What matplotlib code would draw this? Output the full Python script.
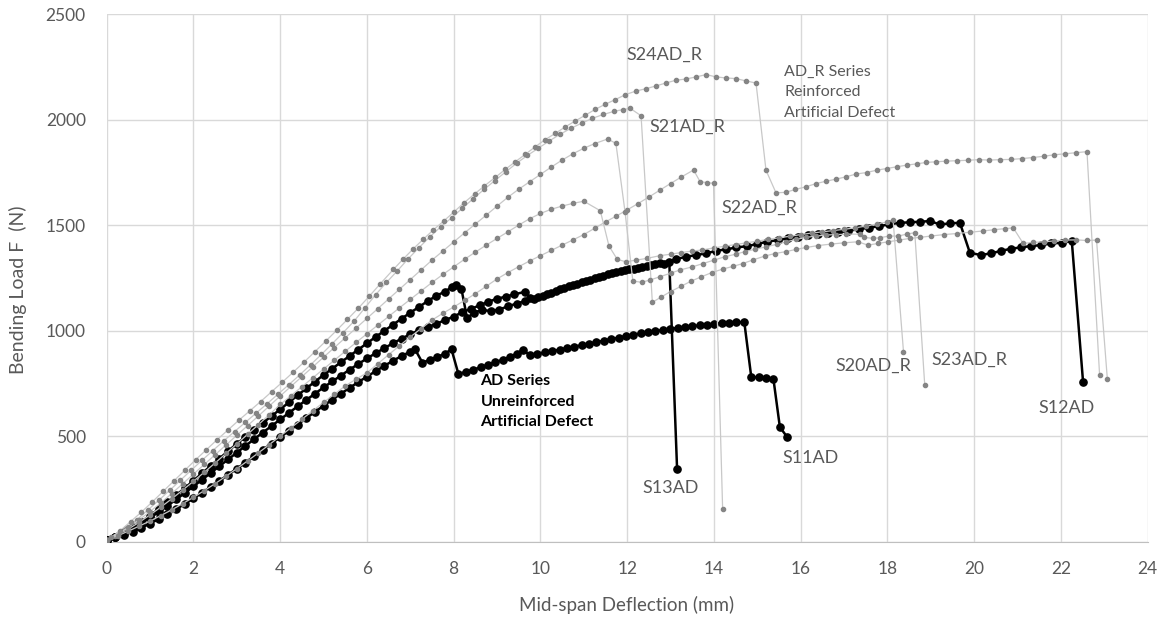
import matplotlib
matplotlib.use("Agg")
import matplotlib.pyplot as plt

plt.rcParams['font.family'] = ['Lato', 'DejaVu Sans']

# ---- data: (deflection mm, load N) ----
# AD series (unreinforced)
s11ad = [(0, 10), (0.2, 20), (0.4, 33), (0.6, 48), (0.8, 66), (1.0, 86), (1.2, 107), (1.4, 130),
         (1.6, 154), (1.8, 179), (2.0, 205), (2.2, 232), (2.4, 260), (2.6, 288), (2.8, 317),
         (3.0, 346), (3.2, 375), (3.4, 405), (3.6, 435), (3.8, 465), (4.0, 495), (4.2, 525),
         (4.4, 555), (4.6, 585), (4.8, 615), (5.0, 644), (5.2, 673), (5.4, 701), (5.6, 729),
         (5.8, 756), (6.0, 782), (6.2, 808), (6.4, 833), (6.6, 857), (6.8, 880), (7.0, 900),
         (7.11, 911), (7.28, 848), (7.45, 862), (7.62, 875), (7.79, 890), (7.95, 911), (8.11, 794),
         (8.28, 805), (8.45, 815), (8.62, 826), (8.79, 838), (8.96, 850), (9.13, 862), (9.3, 876),
         (9.45, 890), (9.59, 908), (9.76, 884), (9.93, 890), (10.1, 897), (10.27, 903),
         (10.44, 910), (10.61, 917), (10.78, 924), (10.95, 931), (11.12, 938), (11.29, 945),
         (11.46, 953), (11.63, 960), (11.8, 967), (11.97, 974), (12.14, 981), (12.31, 987),
         (12.48, 993), (12.65, 998), (12.82, 1003), (12.99, 1008), (13.16, 1013), (13.33, 1017),
         (13.5, 1021), (13.67, 1025), (13.84, 1029), (14.01, 1032), (14.18, 1035), (14.35, 1038),
         (14.52, 1040), (14.7, 1040), (14.86, 781), (15.03, 778), (15.2, 776), (15.37, 773),
         (15.52, 543), (15.68, 498)]

s12ad = [(0, 10), (0.2, 24), (0.4, 44), (0.6, 68), (0.8, 95), (1.0, 124), (1.2, 155), (1.4, 187),
         (1.6, 220), (1.8, 254), (2.0, 289), (2.2, 324), (2.4, 359), (2.6, 394), (2.8, 429),
         (3.0, 464), (3.2, 497), (3.4, 530), (3.6, 563), (3.8, 595), (4.0, 627), (4.2, 660),
         (4.4, 693), (4.6, 726), (4.8, 758), (5.0, 790), (5.2, 820), (5.4, 850), (5.6, 880),
         (5.8, 910), (6.0, 940), (6.2, 970), (6.4, 999), (6.6, 1028), (6.8, 1057), (7.0, 1085),
         (7.2, 1112), (7.4, 1140), (7.6, 1165), (7.8, 1185), (7.95, 1205), (8.06, 1216),
         (8.18, 1196), (8.31, 1058), (8.46, 1085), (8.65, 1098), (8.85, 1093), (9.05, 1100),
         (9.25, 1115), (9.45, 1128), (9.65, 1140), (9.85, 1152), (10.05, 1166), (10.25, 1180),
         (10.45, 1195), (10.65, 1210), (10.85, 1222), (11.05, 1233), (11.25, 1248), (11.45, 1260),
         (11.65, 1275), (11.85, 1284), (12.05, 1292), (12.25, 1298), (12.45, 1305), (12.65, 1314),
         (12.86, 1318), (13.13, 1339), (13.36, 1350), (13.59, 1358), (13.82, 1366), (14.05, 1378),
         (14.28, 1385), (14.52, 1394), (14.76, 1400), (14.99, 1410), (15.22, 1421), (15.48, 1429),
         (15.71, 1437), (15.94, 1445), (16.17, 1453), (16.4, 1457), (16.63, 1461), (16.86, 1465),
         (17.09, 1472), (17.34, 1481), (17.57, 1487), (17.8, 1495), (18.04, 1503), (18.28, 1511),
         (18.52, 1513), (18.75, 1516), (18.98, 1519), (19.21, 1503), (19.44, 1508), (19.67, 1511),
         (19.9, 1369), (20.15, 1358), (20.38, 1366), (20.61, 1377), (20.84, 1388), (21.07, 1394),
         (21.32, 1401), (21.55, 1405), (21.78, 1413), (22.02, 1416), (22.25, 1424), (22.51, 756)]

s13ad = [(0, 10), (0.2, 22), (0.4, 40), (0.6, 62), (0.8, 87), (1.0, 113), (1.2, 141), (1.4, 170),
         (1.6, 200), (1.8, 231), (2.0, 262), (2.2, 294), (2.4, 326), (2.6, 358), (2.8, 390),
         (3.0, 422), (3.2, 454), (3.4, 486), (3.6, 517), (3.8, 548), (4.0, 579), (4.2, 610),
         (4.4, 641), (4.6, 671), (4.8, 701), (5.0, 731), (5.2, 759), (5.4, 787), (5.6, 815),
         (5.8, 842), (6.0, 868), (6.2, 893), (6.4, 917), (6.6, 940), (6.8, 962), (7.0, 983),
         (7.2, 1002), (7.4, 1016), (7.6, 1032), (7.8, 1050), (8.0, 1066), (8.2, 1088), (8.4, 1103),
         (8.6, 1120), (8.8, 1137), (9.0, 1151), (9.2, 1161), (9.4, 1172), (9.65, 1184),
         (9.77, 1153), (9.95, 1160), (10.15, 1172), (10.35, 1187), (10.55, 1203), (10.75, 1216),
         (10.95, 1228), (11.15, 1240), (11.35, 1254), (11.55, 1268), (11.75, 1280), (11.95, 1287),
         (12.15, 1294), (12.35, 1300), (12.55, 1312), (12.75, 1322), (12.97, 1327), (13.15, 346)]

# AD_R series (reinforced)
s24ad_r = [(0, 10), (0.1, 20), (0.3, 50), (0.55, 95), (0.8, 140), (1.05, 188), (1.3, 238),
           (1.55, 288), (1.8, 338), (2.05, 388), (2.3, 436), (2.55, 484), (2.8, 530), (3.05, 576),
           (3.3, 620), (3.55, 664), (3.8, 710), (4.05, 756), (4.3, 803), (4.55, 851), (4.8, 900),
           (5.05, 950), (5.3, 1001), (5.55, 1053), (5.8, 1106), (6.05, 1162), (6.3, 1220),
           (6.61, 1290), (6.84, 1340), (7.07, 1388), (7.3, 1433), (7.53, 1477), (7.78, 1521),
           (8.01, 1563), (8.24, 1606), (8.48, 1647), (8.71, 1686), (8.96, 1726), (9.19, 1764),
           (9.42, 1800), (9.65, 1835), (9.88, 1871), (10.11, 1905), (10.34, 1934), (10.57, 1965),
           (10.8, 1993), (11.03, 2020), (11.26, 2048), (11.49, 2072), (11.72, 2094), (11.96, 2118),
           (12.2, 2135), (12.43, 2146), (12.66, 2159), (12.89, 2173), (13.12, 2186), (13.35, 2192),
           (13.59, 2202), (13.82, 2213), (14.05, 2202), (14.28, 2197), (14.51, 2194), (14.74, 2183),
           (14.97, 2173), (15.2, 1760), (15.43, 1653), (15.65, 1655), (15.88, 1669), (16.13, 1682),
           (16.36, 1697), (16.59, 1708), (16.82, 1718), (17.05, 1729), (17.28, 1742), (17.52, 1749),
           (17.75, 1760), (17.98, 1768), (18.21, 1776), (18.44, 1784), (18.67, 1790), (18.9, 1797),
           (19.13, 1800), (19.36, 1803), (19.6, 1805), (19.85, 1807), (20.1, 1810), (20.35, 1808),
           (20.6, 1810), (20.85, 1811), (21.1, 1815), (21.35, 1820), (21.6, 1826), (21.85, 1833),
           (22.1, 1838), (22.35, 1843), (22.6, 1848), (22.89, 792)]

s21ad_r = [(0, 10), (0.2, 28), (0.45, 64), (0.7, 105), (0.95, 150), (1.2, 196), (1.45, 243),
           (1.7, 291), (1.95, 339), (2.2, 386), (2.45, 432), (2.7, 478), (2.95, 522), (3.2, 566),
           (3.45, 610), (3.7, 654), (3.95, 699), (4.2, 744), (4.45, 790), (4.7, 838), (4.95, 887),
           (5.2, 938), (5.45, 990), (5.7, 1044), (5.95, 1107), (6.2, 1170), (6.45, 1228),
           (6.7, 1283), (6.95, 1340), (7.2, 1393), (7.45, 1444), (7.7, 1492), (7.95, 1534),
           (8.2, 1580), (8.45, 1625), (8.7, 1669), (8.95, 1711), (9.2, 1752), (9.45, 1793),
           (9.7, 1830), (9.95, 1864), (10.2, 1898), (10.45, 1930), (10.7, 1958), (10.95, 1983),
           (11.2, 2006), (11.45, 2024), (11.7, 2039), (11.9, 2047), (12.07, 2053), (12.32, 2018),
           (12.58, 1134), (12.79, 1160), (13.0, 1185), (13.25, 1211), (13.48, 1235), (13.71, 1255),
           (13.95, 1275), (14.21, 1292), (14.45, 1305), (14.67, 1318), (14.9, 1335), (15.17, 1353),
           (15.4, 1365), (15.65, 1374), (15.9, 1385), (16.13, 1394), (16.4, 1403), (16.7, 1410),
           (17.0, 1416), (17.32, 1421), (17.55, 1405), (17.78, 1413), (18.02, 1421), (18.27, 1429),
           (18.52, 1437), (18.76, 1442), (19.0, 1448), (19.3, 1455), (19.6, 1460), (19.9, 1466),
           (20.2, 1472), (20.45, 1478), (20.7, 1483), (20.9, 1487), (21.13, 1413), (21.35, 1418),
           (21.6, 1421), (21.85, 1425), (22.1, 1429), (22.35, 1430), (22.6, 1427), (22.82, 1429),
           (23.07, 770)]

s23ad_r = [(0, 10), (0.25, 35), (0.5, 68), (0.75, 104), (1.0, 143), (1.25, 184), (1.5, 228),
           (1.75, 274), (2.0, 320), (2.25, 366), (2.5, 412), (2.75, 458), (3.0, 504), (3.25, 550),
           (3.5, 596), (3.75, 643), (4.0, 690), (4.25, 736), (4.5, 782), (4.75, 828), (5.0, 874),
           (5.25, 920), (5.5, 966), (5.75, 1012), (6.0, 1058), (6.25, 1104), (6.5, 1150),
           (6.75, 1196), (7.0, 1242), (7.25, 1288), (7.5, 1334), (7.75, 1377), (8.0, 1420),
           (8.25, 1463), (8.5, 1505), (8.75, 1547), (9.0, 1590), (9.25, 1632), (9.5, 1670),
           (9.75, 1705), (10.0, 1740), (10.25, 1775), (10.5, 1808), (10.75, 1838), (11.0, 1864),
           (11.25, 1886), (11.55, 1908), (11.74, 1887), (11.95, 1563), (12.13, 1235), (12.33, 1229),
           (12.53, 1240), (12.75, 1255), (13.0, 1272), (13.21, 1287), (13.5, 1302), (13.75, 1318),
           (14.0, 1334), (14.25, 1350), (14.5, 1362), (14.71, 1374), (14.95, 1386), (15.21, 1397),
           (15.45, 1409), (15.67, 1421), (15.9, 1432), (16.13, 1442), (16.36, 1448), (16.59, 1453),
           (16.82, 1455), (17.05, 1457), (17.36, 1457), (17.45, 1442), (17.67, 1437), (17.82, 1440),
           (18.04, 1448), (18.25, 1448), (18.44, 1457), (18.63, 1464), (18.86, 741)]

s22ad_r = [(0, 10), (0.25, 28), (0.5, 50), (0.75, 74), (1.0, 98), (1.25, 124), (1.5, 151),
           (1.75, 180), (2.0, 210), (2.25, 242), (2.5, 275), (2.75, 310), (3.0, 346), (3.25, 383),
           (3.5, 421), (3.75, 460), (4.0, 500), (4.25, 540), (4.5, 580), (4.75, 620), (5.0, 660),
           (5.25, 699), (5.5, 738), (5.75, 770), (6.0, 800), (6.25, 843), (6.5, 886), (6.75, 928),
           (7.0, 970), (7.25, 1010), (7.5, 1050), (7.75, 1082), (8.0, 1112), (8.25, 1143),
           (8.5, 1175), (8.75, 1210), (9.0, 1245), (9.25, 1275), (9.5, 1303), (9.75, 1330),
           (10.0, 1355), (10.25, 1380), (10.5, 1405), (10.75, 1430), (11.0, 1455), (11.25, 1485),
           (11.5, 1515), (11.75, 1543), (12.0, 1572), (12.25, 1602), (12.5, 1633), (12.75, 1665),
           (13.0, 1697), (13.25, 1728), (13.53, 1761), (13.68, 1706), (13.84, 1701), (13.99, 1698),
           (14.2, 157)]

s20ad_r = [(0, 10), (0.25, 32), (0.5, 60), (0.75, 92), (1.0, 127), (1.25, 164), (1.5, 203),
           (1.75, 244), (2.0, 286), (2.25, 329), (2.5, 373), (2.75, 418), (3.0, 463), (3.25, 509),
           (3.5, 555), (3.75, 602), (4.0, 650), (4.25, 692), (4.5, 734), (4.75, 776), (5.0, 818),
           (5.25, 860), (5.5, 902), (5.75, 944), (6.0, 985), (6.25, 1026), (6.5, 1067), (6.75, 1108),
           (7.0, 1148), (7.25, 1188), (7.5, 1228), (7.75, 1266), (8.0, 1302), (8.25, 1338),
           (8.5, 1372), (8.75, 1405), (9.0, 1437), (9.25, 1468), (9.5, 1500), (9.75, 1530),
           (10.0, 1555), (10.25, 1575), (10.5, 1590), (10.75, 1603), (11.0, 1613), (11.38, 1568),
           (11.58, 1401), (11.77, 1338), (11.97, 1326), (12.2, 1334), (12.45, 1342), (12.75, 1355),
           (13.0, 1362), (13.25, 1370), (13.5, 1377), (13.72, 1382), (14.0, 1392), (14.25, 1400),
           (14.5, 1408), (14.75, 1416), (15.0, 1424), (15.25, 1432), (15.5, 1440), (15.75, 1447),
           (16.0, 1455), (16.25, 1462), (16.5, 1468), (16.75, 1474), (17.0, 1480), (17.25, 1487),
           (17.5, 1495), (17.75, 1505), (18.0, 1515), (18.13, 1524), (18.37, 900)]

ad_series = [s11ad, s12ad, s13ad]
adr_series = [s20ad_r, s21ad_r, s22ad_r, s23ad_r, s24ad_r]

# data labels: text, x, y (centre)
point_labels = [("S24AD_R", 12.85, 2305), ("S21AD_R", 13.39, 1966), ("S22AD_R", 15.04, 1582),
                ("S20AD_R", 17.68, 832), ("S23AD_R", 19.88, 861), ("S12AD", 22.14, 632),
                ("S11AD", 16.23, 395), ("S13AD", 13.0, 256)]

xticks = list(range(0, 25, 2))
yticks = list(range(0, 2501, 500))

grey_txt = '#595959'

fig = plt.figure(figsize=(11.62, 6.2), dpi=100)
ax = fig.add_axes([0.0918, 0.1263, 0.8959, 0.8511])

for pts in ad_series:
    x, y = zip(*pts)
    ax.plot(x, y, color='black', lw=1.8, marker='o', ms=5.2, mfc='black', mec='black', zorder=3)

for pts in adr_series:
    x, y = zip(*pts)
    ax.plot(x, y, color='#c8c8c8', lw=0.9, marker='o', ms=3, mfc='#858585', mec='#858585', zorder=4)

ax.set_xlim(0, 24)
ax.set_ylim(0, 2500)
ax.set_xticks(xticks)
ax.set_yticks(yticks)
ax.grid(True, color='#d9d9d9', lw=1.0)
ax.set_axisbelow(True)
for s in ['top', 'right', 'left']:
    ax.spines[s].set_visible(False)
ax.spines['bottom'].set_color('#bfbfbf')
ax.tick_params(axis='both', length=0, labelsize=12.5, colors=grey_txt)
ax.tick_params(axis='y', pad=15)
ax.tick_params(axis='x', pad=14)

for txt, tx, ty in point_labels:
    ax.text(tx, ty, txt, ha='center', va='center', fontsize=13, color=grey_txt)

ax.text(15.62, 2129, "AD_R Series\nReinforced\nArtificial Defect", ha='left', va='center',
        fontsize=11.5, color=grey_txt, linespacing=1.6)
ax.text(8.62, 663, "AD Series\nUnreinforced\nArtificial Defect", ha='left', va='center',
        fontsize=11.5, fontweight='bold', color='black', linespacing=1.6)

fig.text(627 / 1162, 1 - 605 / 620, "Mid-span Deflection (mm)", ha='center', va='center',
         fontsize=13.5, color=grey_txt)
fig.text(18 / 1162, 1 - 290 / 620, "Bending Load F  (N)", ha='center', va='center',
         rotation=90, fontsize=14, color=grey_txt)

fig.savefig('out.png', dpi=100)
